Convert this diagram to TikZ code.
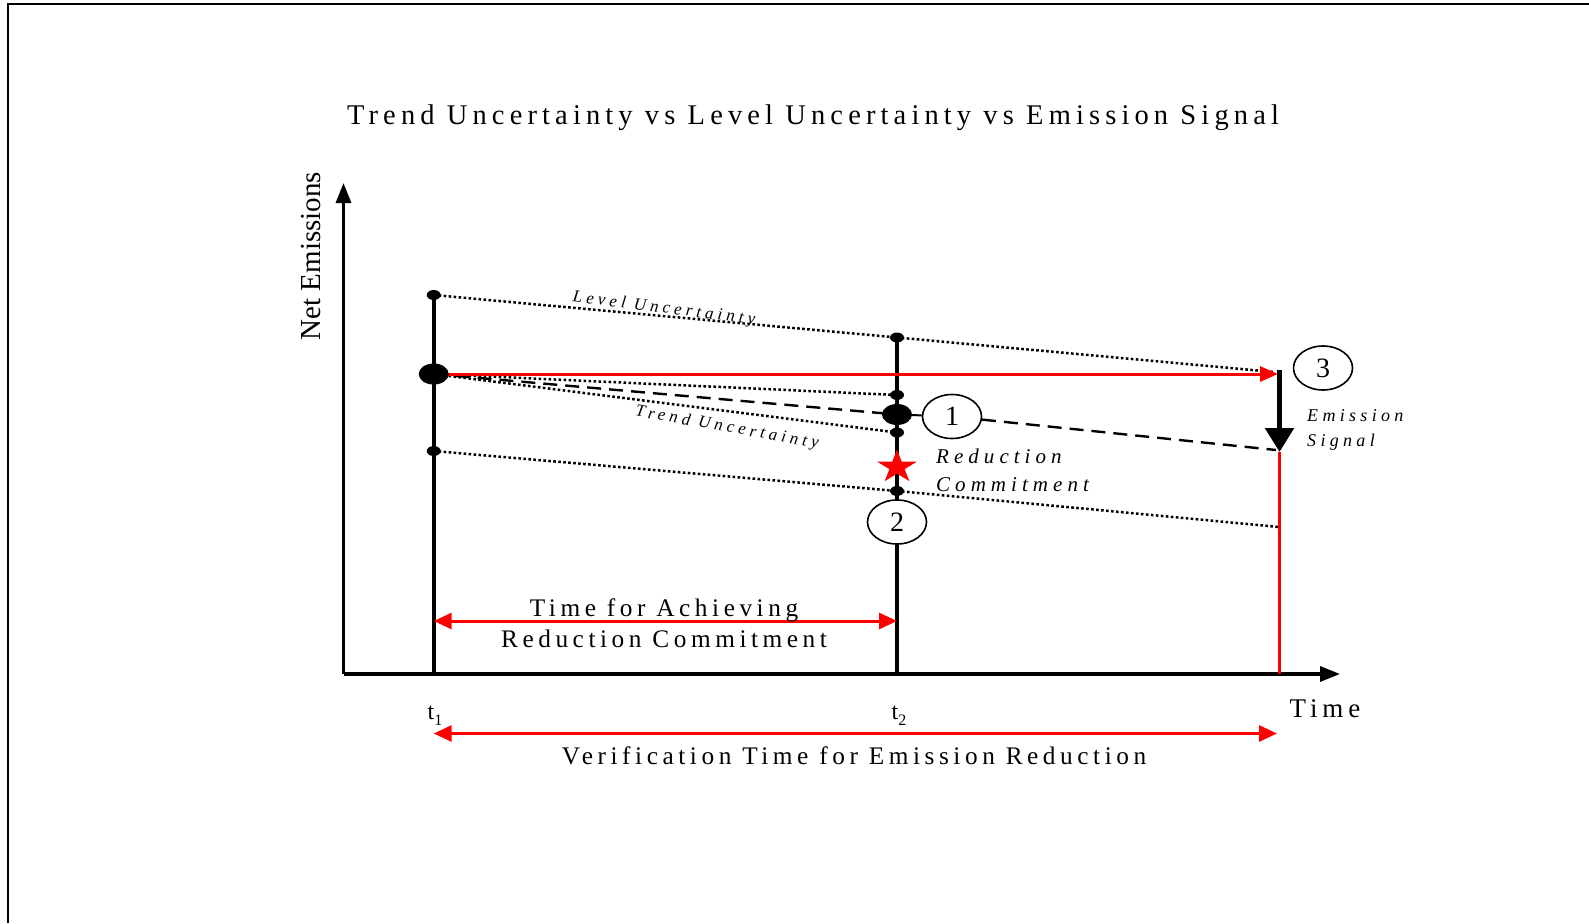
\documentclass[tikz,border=0pt]{standalone}
\usepackage{fontspec}
\setmainfont{Liberation Serif}
\newfontfamily\spfont[LetterSpace=18]{Liberation Serif}
\newfontfamily\spitfont[LetterSpace=24]{Liberation Serif}
\usetikzlibrary{arrows.meta,shapes.geometric}
\pgfdeclarelayer{background}
\pgfsetlayers{background,main}
\begin{document}
\begin{tikzpicture}[x=1pt,y=-1pt,
  frame/.style={line width=2.5pt},
  axis/.style={line width=3.2pt,-{Triangle[length=20pt,width=15pt]}},
  vert/.style={line width=3.8pt},
  dotln/.style={line width=2.5pt,dash pattern=on 2.6pt off 2.4pt},
  dashln/.style={line width=2.4pt,dash pattern=on 14pt off 8pt},
  redln/.style={red,line width=3pt},
  redarr/.style={redln,-{Triangle[length=18pt,width=15pt]}},
  reddbl/.style={redln,{Triangle[length=18pt,width=16pt]}-{Triangle[length=18pt,width=16pt]}},
  sdot/.style={ellipse,fill=black,minimum width=14pt,minimum height=10pt,inner sep=0pt},
  bdot/.style={ellipse,fill=black,minimum width=30pt,minimum height=21pt,inner sep=0pt},
  num/.style={ellipse,draw,fill=white,line width=1.6pt,minimum width=59pt,minimum height=44pt,inner sep=0pt,font=\fontsize{28}{28}\selectfont},
  lbl/.style={inner sep=0pt,font=\spfont\fontsize{25.3}{25.3}\selectfont},
  itl/.style={inner sep=0pt,font=\spitfont\itshape\fontsize{21}{21}\selectfont}
]
\useasboundingbox (0,0) rectangle (1589,923);
% frame
\draw[frame] (8,923) -- (8,4) -- (1589,4);

% coordinates
\coordinate (O) at (343.5,674);
\coordinate (Ytop) at (343.5,183);
\coordinate (Xend) at (1340,674);
\coordinate (t1b) at (433.7,674);
\coordinate (t2b) at (897,674);
\coordinate (t3b) at (1279.5,674);
\coordinate (u3) at (1274,372);
\coordinate (l3) at (1279,527);
\coordinate (d3) at (1276,450);
\coordinate (r3) at (1278,374);
\coordinate (s3top) at (1279.5,370);
\coordinate (s3tip) at (1279.5,452);
\coordinate (st) at (897,467);

% dots
\node[sdot] (a1) at (433.7,295) {};
\node[bdot] (a0) at (433.7,374) {};
\node[sdot] (a2) at (433.7,451) {};
\node[sdot] (b1) at (897,337.5) {};
\node[sdot] (b2) at (897,395) {};
\node[bdot] (b3) at (897,414.5) {};
\node[sdot] (b4) at (897,432.5) {};
\node[sdot] (b5) at (897,491) {};

% numbered ellipses
\node[num] (c1) at (952,416.5) {1};
\node[num] (c2) at (897,522) {2};
\node[num] (c3) at (1323,368) {3};

\begin{pgfonlayer}{background}
% axes
\draw[axis] (O) -- (Ytop);
\draw[axis] (O) -- (Xend);
% verticals
\draw[vert] (a1.center) -- (t1b);
\draw[vert] (b1.center) -- (t2b);
\draw[redln] (s3tip) -- (t3b);
% uncertainty lines
\draw[dotln] (a1.center) -- (b1.center) -- (u3);
\draw[dotln] (a2.center) -- (b5.center) -- (l3);
\draw[dotln] (a0.center) -- (b2.center);
\draw[dotln] (a0.center) -- (b4.center);
\draw[dashln] (a0.center) -- (b3.center);
\draw[line width=2pt] (b3.center) -- (c1);
\draw[dashln] (c1) -- (d3);
% red level line
\draw[redarr] (a0.center) -- (r3);
% emission signal arrow
\draw[line width=5.5pt,-{Triangle[length=24pt,width=28pt]}] (s3top) -- (s3tip);
\end{pgfonlayer}

% star
\fill[red] (st) +(90:21pt and 17.5pt) -- +(126:8pt and 6.7pt) -- +(162:21pt and 17.5pt)
  -- +(198:8pt and 6.7pt) -- +(234:21pt and 17.5pt) -- +(270:8pt and 6.7pt)
  -- +(306:21pt and 17.5pt) -- +(342:8pt and 6.7pt) -- +(18:21pt and 17.5pt)
  -- +(54:8pt and 6.7pt) -- cycle;

% time arrows
\coordinate (ta) at (433.7,621);
\coordinate (tb) at (897,621);
\coordinate (va) at (433.7,733.5);
\coordinate (vb) at (1277,733.5);
\draw[reddbl] (ta) -- (tb);
\draw[reddbl] (va) -- (vb);

% texts
\node[lbl,anchor=base,font=\spfont\fontsize{28.5}{28.5}\selectfont] (title) at (813,124.5) {Trend Uncertainty vs Level Uncertainty vs Emission Signal};
\node[inner sep=0pt,anchor=base,rotate=90,font=\fontsize{29}{29}\selectfont] (ylab) at (320,256) {Net Emissions};
\node[lbl,anchor=base] (tach1) at (664,616) {Time for Achieving};
\node[lbl,anchor=base] (tach2) at (664,647.5) {Reduction Commitment};
\node[lbl,anchor=base] (ver) at (854,764) {Verification Time for Emission Reduction};
\node[lbl,anchor=base,font=\spfont\fontsize{27}{27}\selectfont] (time) at (1325,717) {Time};
\node[inner sep=0pt,anchor=base,font=\fontsize{24}{24}\selectfont] (t1) at (435,719) {t\raisebox{-6pt}{\fontsize{16}{16}\selectfont 1}};
\node[inner sep=0pt,anchor=base,font=\fontsize{24}{24}\selectfont] (t2) at (899,719) {t\raisebox{-6pt}{\fontsize{16}{16}\selectfont 2}};
\node[itl,anchor=base west] (rc1) at (936,463.5) {Reduction};
\node[itl,anchor=base west] (rc2) at (936,491.5) {Commitment};
\node[itl,anchor=base west,font=\spitfont\itshape\fontsize{18}{18}\selectfont] (es1) at (1307,421) {Emission};
\node[itl,anchor=base west,font=\spitfont\itshape\fontsize{18}{18}\selectfont] (es2) at (1307,446) {Signal};
\node[itl,rotate=-7,font=\spitfont\itshape\fontsize{17}{17}\selectfont] (lvl) at (664,309) {Level Uncertainty};
\node[itl,rotate=-10,font=\spitfont\itshape\fontsize{17}{17}\selectfont] (trd) at (727,428) {Trend Uncertainty};
\end{tikzpicture}
\end{document}
